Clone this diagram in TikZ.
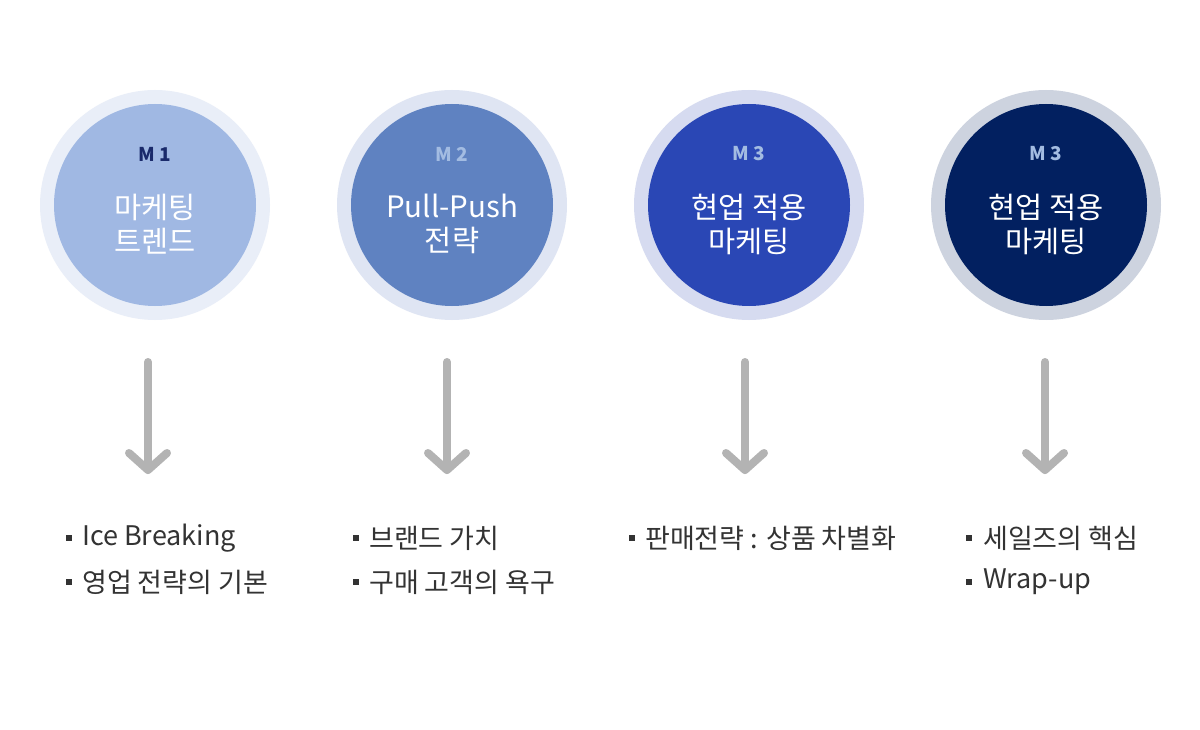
\documentclass[tikz,border=0pt]{standalone}
\usepackage{fontspec}
\setmainfont{Noto Sans CJK KR}
\newfontfamily\kr{Noto Sans CJK KR}
\begin{document}
\begin{tikzpicture}[x=1pt,y=-1pt,
  ring/.style={circle,minimum size=230pt,inner sep=0pt},
  core/.style={circle,minimum size=202pt,inner sep=0pt},
  mlabel/.style={font=\kr\fontsize{19}{19}\selectfont\bfseries},
  title/.style={font=\kr\fontsize{29.5}{34}\selectfont,text=white,align=center},
  arr/.style={draw=arrgray,line width=8pt,line cap=round,line join=round},
  item/.style={font=\kr\fontsize{27}{27}\selectfont,text=txt,anchor=west,inner sep=0pt},
  bul/.style={fill=txt,minimum size=6pt,inner sep=0pt}]
\definecolor{arrgray}{HTML}{B3B3B3}
\definecolor{txt}{HTML}{333333}
\definecolor{c1in}{HTML}{A0B8E3}\definecolor{c1out}{HTML}{E9EEF8}
\definecolor{c2in}{HTML}{5F82C1}\definecolor{c2out}{HTML}{DFE5F3}
\definecolor{c3in}{HTML}{2A47B5}\definecolor{c3out}{HTML}{D6DBF0}
\definecolor{c4in}{HTML}{022060}\definecolor{c4out}{HTML}{CDD3DF}
\definecolor{m1}{HTML}{1A2A6B}\definecolor{m2}{HTML}{A3BCE2}
\useasboundingbox (0,0) rectangle (1200,730);
\fill[white] (0,0) rectangle (1200,730);
% circles
\node[ring,fill=c1out] (r1) at (155,205) {};
\node[core,fill=c1in] (k1) at (155,205) {};
\node[ring,fill=c2out] (r2) at (452,205) {};
\node[core,fill=c2in] (k2) at (452,205) {};
\node[ring,fill=c3out] (r3) at (749,205) {};
\node[core,fill=c3in] (k3) at (749,205) {};
\node[ring,fill=c4out] (r4) at (1046,205) {};
\node[core,fill=c4in] (k4) at (1046,205) {};
% labels
\node[mlabel,text=m1] (m1) at (155,154) {M 1};
\node[mlabel,text=m2] (m2) at (452,154) {M 2};
\node[mlabel,text=m2] (m3) at (749,154) {M 3};
\node[mlabel,text=m2] (m4) at (1046,154) {M 3};
\node[title] (t1) at (155,224) {마케팅\\트렌드};
\node[title] (t2) at (452,224) {Pull-Push\\전략};
\node[title] (t3) at (749,224) {현업 적용\\마케팅};
\node[title] (t4) at (1046,224) {현업 적용\\마케팅};
% arrows
\foreach \i/\x in {1/148,2/447,3/745,4/1045}{
  \coordinate (a\i) at (\x,362);
  \coordinate (b\i) at (\x,470);
  \draw[arr] (a\i) -- (b\i);
  \draw[arr] ([shift={(-19,-17)}]b\i) -- (b\i) -- ([shift={(19,-17)}]b\i);
}
% bullets
\node[bul] (p1) at (69,538) {};
\node[item] (i1) at (82,538) {Ice Breaking};
\node[bul] (p2) at (69,582) {};
\node[item] (i2) at (82,582) {영업 전략의 기본};
\node[bul] (p3) at (356,538) {};
\node[item] (i3) at (369,538) {브랜드 가치};
\node[bul] (p4) at (356,582) {};
\node[item] (i4) at (369,582) {구매 고객의 욕구};
\node[bul] (p5) at (632,538) {};
\node[item] (i5) at (645,538) {판매전략 : 상품 차별화};
\node[bul] (p6) at (969,538) {};
\node[item] (i6) at (983,538) {세일즈의 핵심};
\node[bul] (p7) at (969,582) {};
\node[item] (i7) at (983,582) {Wrap-up};
\end{tikzpicture}
\end{document}
